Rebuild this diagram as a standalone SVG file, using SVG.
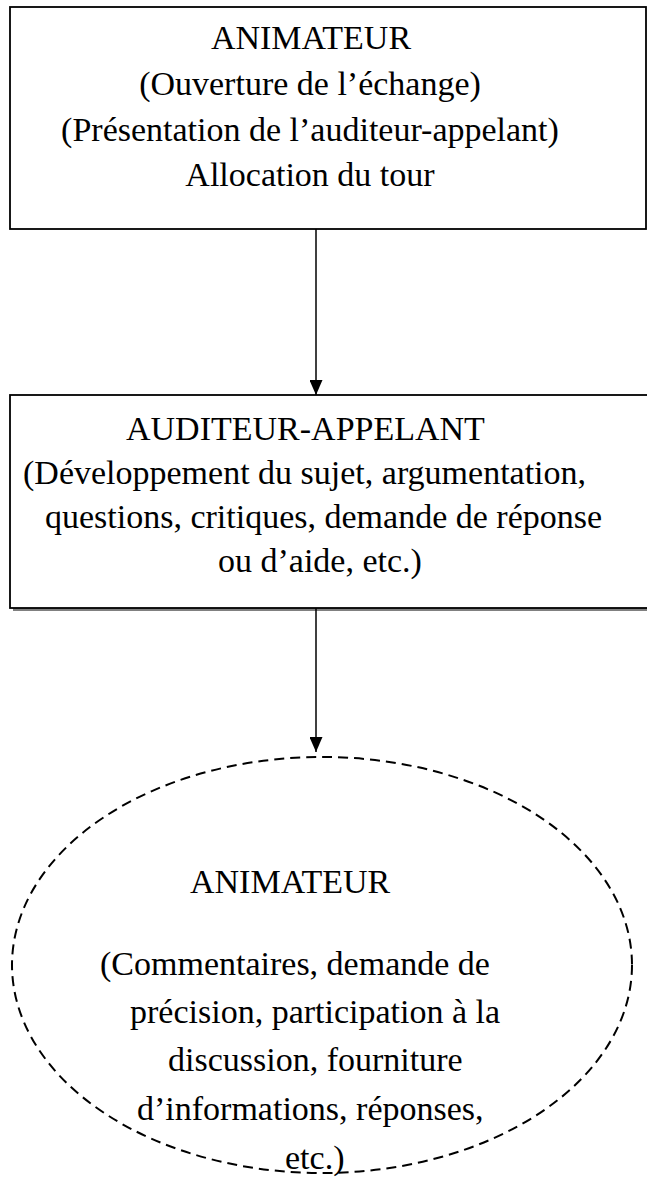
<svg xmlns="http://www.w3.org/2000/svg" width="647" height="1177" viewBox="0 0 647 1177">
<style>
text{font-family:"Liberation Serif","Times New Roman",serif;font-size:34px;fill:#000}
.c{text-anchor:middle}
.box{fill:#fff;stroke:#000;stroke-width:1.8}
.conn{stroke:#000;stroke-width:1.5;fill:none}
</style>
<defs>
<marker id="ah" viewBox="0 0 15 13" refX="15" refY="6.5" markerWidth="15" markerHeight="13" markerUnits="userSpaceOnUse" orient="auto">
<path d="M0,0 L15,6.5 L0,13 Z" fill="#000"/>
</marker>
</defs>
<g id="node-animateur1">
<rect class="box" x="10" y="7" width="636" height="222"/>
<text class="c" x="311" y="49">ANIMATEUR</text>
<text class="c" x="310" y="95">(Ouverture de l’échange)</text>
<text class="c" x="310" y="141">(Présentation de l’auditeur-appelant)</text>
<text class="c" x="310" y="186">Allocation du tour</text>
</g>
<g id="node-auditeur">
<rect x="13" y="398" width="640" height="213" fill="#808080"/>
<rect class="box" x="10" y="395" width="640" height="213"/>
<text x="126" y="440">AUDITEUR-APPELANT</text>
<text x="23" y="484">(Développement du sujet, argumentation,</text>
<text x="45" y="528">questions, critiques, demande de réponse</text>
<text x="218" y="572">ou d’aide, etc.)</text>
</g>
<g id="node-animateur2">
<ellipse cx="322" cy="965" rx="310" ry="208" fill="none" stroke="#000" stroke-width="2" stroke-dasharray="10,6"/>
<text x="190" y="893">ANIMATEUR</text>
<text x="100" y="975">(Commentaires, demande de</text>
<text x="130" y="1023">précision, participation à la</text>
<text x="168" y="1071">discussion, fourniture</text>
<text x="137" y="1120">d’informations, réponses,</text>
<text x="285" y="1169">etc.)</text>
</g>
<g id="connectors">
<line class="conn" x1="316" y1="229" x2="316" y2="395" marker-end="url(#ah)"/>
<line class="conn" x1="316" y1="608" x2="316" y2="752" marker-end="url(#ah)"/>
</g>
</svg>
